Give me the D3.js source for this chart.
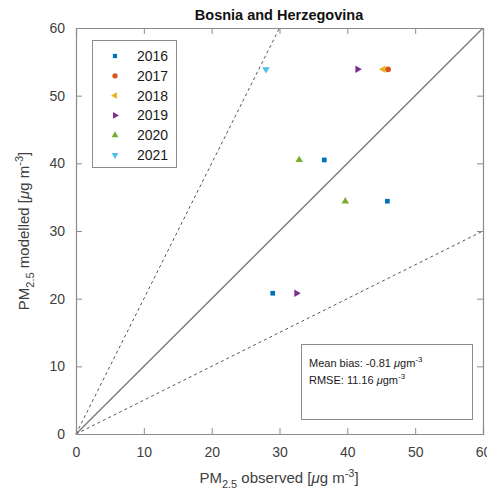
<!DOCTYPE html>
<html><head><meta charset="utf-8">
<script src="https://cdn.jsdelivr.net/npm/d3@7"></script>
<style>body{margin:0;background:#fff;} svg{font-family:"Liberation Sans",Arial,sans-serif;}</style>
</head><body>
<svg id="c" width="487" height="496"></svg>
<script>
const years = ["2016","2017","2018","2019","2020","2021"];
const colors = ["#0072BD","#D95319","#EDB120","#7E2F8E","#77AC30","#4DBEEE"];
const shapes = ["square","circle","left","right","up","down"];
const obs2016 = [29.0, 36.6, 45.9];
const mod2016 = [20.8, 40.5, 34.4];
const obs2017 = [46.0];
const mod2017 = [53.9];
const obs2018 = [45.3];
const mod2018 = [53.9];
const obs2019 = [41.5, 32.5];
const mod2019 = [53.9, 20.8];
const obs2020 = [32.9, 39.7];
const mod2020 = [40.5, 34.4];
const obs2021 = [28.0];
const mod2021 = [53.9];
const ticks = [0,10,20,30,40,50,60];
const statsLines = ["Mean bias: -0.81 ", "RMSE: 11.16 "];

const obsAll = [obs2016,obs2017,obs2018,obs2019,obs2020,obs2021];
const modAll = [mod2016,mod2017,mod2018,mod2019,mod2020,mod2021];

const svg = d3.select("#c");
const L=76,R=483,T=28,B=434;
const x = d3.scaleLinear().domain([0,60]).range([L,R]);
const y = d3.scaleLinear().domain([0,60]).range([B,T]);
const axCol = "#8c8c8c", txtCol="#404040";

// reference lines
const g = svg.append("g");
g.append("line").attr("x1",x(0)).attr("y1",y(0)).attr("x2",x(60)).attr("y2",y(60)).attr("stroke","#777").attr("stroke-width",1.3);
g.append("line").attr("x1",x(0)).attr("y1",y(0)).attr("x2",x(30)).attr("y2",y(60)).attr("stroke","#555").attr("stroke-width",1).attr("stroke-dasharray","3,3");
g.append("line").attr("x1",x(0)).attr("y1",y(0)).attr("x2",x(60)).attr("y2",y(30)).attr("stroke","#555").attr("stroke-width",1).attr("stroke-dasharray","3,3");

// axes
const xb = svg.append("g").attr("transform",`translate(0,${B})`).call(d3.axisBottom(x).tickValues(ticks).tickSize(-6).tickPadding(13));
const xt = svg.append("g").attr("transform",`translate(0,${T})`).call(d3.axisTop(x).tickValues(ticks).tickSize(-6).tickFormat(""));
const yl = svg.append("g").attr("transform",`translate(${L},0)`).call(d3.axisLeft(y).tickValues(ticks).tickSize(-6).tickPadding(11));
const yr = svg.append("g").attr("transform",`translate(${R},0)`).call(d3.axisRight(y).tickValues(ticks).tickSize(-6).tickFormat(""));
[xb,xt,yl,yr].forEach(a=>{
  a.select(".domain").attr("stroke",axCol).attr("stroke-width",1.2);
  a.selectAll(".tick line").attr("stroke",axCol);
  a.selectAll(".tick text").attr("fill",txtCol).attr("font-size",14).attr("font-family","Liberation Sans, Arial, sans-serif");
});

function sym(s){
  const m = {square:d3.symbolSquare,circle:d3.symbolCircle,left:d3.symbolTriangle,right:d3.symbolTriangle,up:d3.symbolTriangle,down:d3.symbolTriangle};
  return m[s];
}
function rot(s){return {left:-90,right:90,up:0,down:180,square:0,circle:0}[s];}
function size(s){return s==="square"?22:(s==="circle"?26:24);}

years.forEach((yr_,i)=>{
  const pts = obsAll[i].map((o,j)=>({o,m:modAll[i][j]}));
  svg.append("g").selectAll("path").data(pts).join("path")
    .attr("d",d3.symbol().type(sym(shapes[i])).size(size(shapes[i])))
    .attr("transform",d=>`translate(${x(d.o)},${y(d.m)}) rotate(${rot(shapes[i])})`)
    .attr("fill",colors[i]);
});

// legend
const lg = svg.append("g");
lg.append("rect").attr("x",92.5).attr("y",40.5).attr("width",84).attr("height",127).attr("fill","#fff").attr("stroke",axCol).attr("stroke-width",1);
years.forEach((yr_,i)=>{
  const yy = 56 + i*19.8;
  lg.append("path").attr("d",d3.symbol().type(sym(shapes[i])).size(size(shapes[i])-4)())
    .attr("transform",`translate(115,${yy}) rotate(${rot(shapes[i])})`).attr("fill",colors[i]);
  lg.append("text").attr("x",137).attr("y",yy+5).attr("font-size",14).attr("fill","#1a1a1a").text(yr_);
});

// stats box
const sb = svg.append("g");
sb.append("rect").attr("x",301.5).attr("y",344.5).attr("width",171).attr("height",75).attr("fill","#fff").attr("stroke",axCol);
statsLines.forEach((t,i)=>{
  const tx = sb.append("text").attr("x",309).attr("y",367+i*16.5).attr("font-size",11).attr("fill","#1a1a1a");
  tx.append("tspan").text(t);
  tx.append("tspan").attr("font-style","italic").text("\u03bc");
  tx.append("tspan").text("gm");
  tx.append("tspan").attr("font-size",8).attr("dy",-5).text("-3");
});

// title
svg.append("text").attr("x",279).attr("y",20).attr("text-anchor","middle").attr("font-size",14.5).attr("font-weight","bold").attr("fill","#111").text("Bosnia and Herzegovina");

// x label
const xlab = svg.append("text").attr("x",279).attr("y",483).attr("text-anchor","middle").attr("font-size",15).attr("fill",txtCol);
xlab.append("tspan").text("PM");
xlab.append("tspan").attr("font-size",11).attr("dy",5).text("2.5");
xlab.append("tspan").attr("dy",-5).text(" observed [");
xlab.append("tspan").attr("font-style","italic").text("\u03bc");
xlab.append("tspan").text("g m");
xlab.append("tspan").attr("font-size",11).attr("dy",-6).text("-3");
xlab.append("tspan").attr("dy",6).text("]");

// y label
const ylab = svg.append("text").attr("transform","translate(29,231) rotate(-90)").attr("text-anchor","middle").attr("font-size",15).attr("fill",txtCol);
ylab.append("tspan").text("PM");
ylab.append("tspan").attr("font-size",11).attr("dy",5).text("2.5");
ylab.append("tspan").attr("dy",-5).text(" modelled [");
ylab.append("tspan").attr("font-style","italic").text("\u03bc");
ylab.append("tspan").text("g m");
ylab.append("tspan").attr("font-size",11).attr("dy",-6).text("-3");
ylab.append("tspan").attr("dy",6).text("]");
</script>
</body></html>
